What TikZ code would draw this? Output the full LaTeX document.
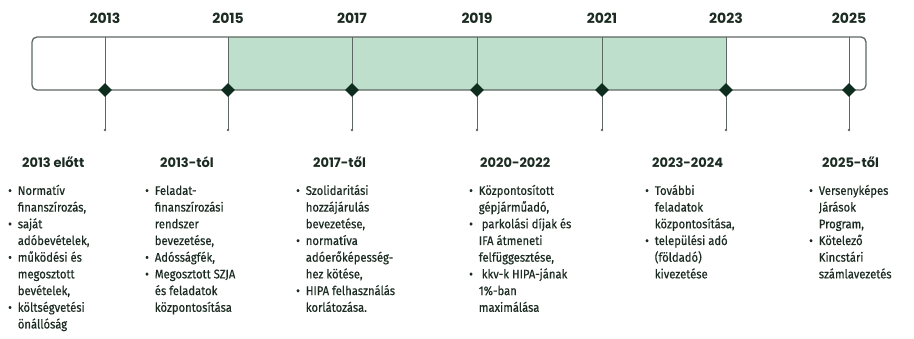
\documentclass[tikz,border=0pt]{standalone}
\usepackage{fontspec}
\setmainfont{Fira Sans}[FakeStretch=0.9,FakeBold=0.45]
\newfontfamily\headfont{Poppins}
\usetikzlibrary{shapes.geometric}
\definecolor{barfill}{HTML}{BEDFCB}
\definecolor{darkgreen}{HTML}{0F2D1E}
\definecolor{linegray}{HTML}{5E6862}
\definecolor{txt}{HTML}{1B2B22}
\begin{document}
\begin{tikzpicture}[x=1pt,y=-1pt,font=\fontsize{12.5}{16.7}\selectfont,
    year/.style={anchor=base,text=txt,font=\fontsize{14}{16}\selectfont\headfont\bfseries},
    dmark/.style={diamond,fill=darkgreen,minimum size=14pt,inner sep=0pt},
    head/.style={anchor=base west,text=txt,inner sep=0pt,font=\fontsize{13}{15}\selectfont\headfont\bfseries},
    col/.style={anchor=north west,text=txt,inner sep=0pt,align=left},
    tick/.style={linegray,line width=1pt}]
    \useasboundingbox (0,0) rectangle (914,339);

    % the bar
    \fill[barfill] (228,37) rectangle (726,90);
    \draw[linegray,line width=1.3pt,rounded corners=5pt] (32,37) rectangle (866,90);

    % years
    \node[year] (y2013) at (105,24) {2013};
    \node[year] (y2015) at (228,24) {2015};
    \node[year] (y2017) at (352,24) {2017};
    \node[year] (y2019) at (477,24) {2019};
    \node[year] (y2021) at (602,24) {2021};
    \node[year] (y2023) at (726,24) {2023};
    \node[year] (y2025) at (849,24) {2025};

    \coordinate (t2013) at (105,37);
    \coordinate (t2015) at (228,37);
    \coordinate (t2017) at (352,37);
    \coordinate (t2019) at (477,37);
    \coordinate (t2021) at (602,37);
    \coordinate (t2023) at (726,37);
    \coordinate (t2025) at (849,37);

    \coordinate (e2013) at (105,130);
    \coordinate (e2015) at (228,130);
    \coordinate (e2017) at (352,130);
    \coordinate (e2019) at (477,130);
    \coordinate (e2021) at (602,130);
    \coordinate (e2023) at (726,130);
    \coordinate (e2025) at (849,130);

    \draw[tick] (t2013) -- (e2013);
    \draw[tick] (t2015) -- (e2015);
    \draw[tick] (t2017) -- (e2017);
    \draw[tick] (t2019) -- (e2019);
    \draw[tick] (t2021) -- (e2021);
    \draw[tick] (t2023) -- (e2023);
    \draw[tick] (t2025) -- (e2025);

    \fill[linegray] (e2013) circle (1.3pt) (e2015) circle (1.3pt) (e2017) circle (1.3pt)
        (e2019) circle (1.3pt) (e2021) circle (1.3pt) (e2023) circle (1.3pt) (e2025) circle (1.3pt);

    \node[dmark] (d2013) at (105,90) {};
    \node[dmark] (d2015) at (228,90) {};
    \node[dmark] (d2017) at (352,90) {};
    \node[dmark] (d2019) at (477,90) {};
    \node[dmark] (d2021) at (602,90) {};
    \node[dmark] (d2023) at (726,90) {};
    \node[dmark] (d2025) at (849,90) {};

    % periods
    \node[head] (h2013) at (22,168) {2013 előtt};
    \node[head] (h2013b) at (160,168) {2013-tól};
    \node[head] (h2017) at (313,168) {2017-től};
    \node[head] (h2020) at (480,168) {2020-2022};
    \node[head] (h2023) at (652,168) {2023-2024};
    \node[head] (h2025) at (822,168) {2025-től};

    \node[col] (c2013) at (8,183) {\begin{tabular}{@{}l@{\hspace{6pt}}l@{}}
        \textbullet & Normatív\\
         & finanszírozás,\\
        \textbullet & saját\\
         & adóbevételek,\\
        \textbullet & működési és\\
         & megosztott\\
         & bevételek,\\
        \textbullet & költségvetési\\
         & önállóság
    \end{tabular}};
    \node[col] (c2013b) at (145,183) {\begin{tabular}{@{}l@{\hspace{6pt}}l@{}}
        \textbullet & Feladat-\\
         & finanszírozási\\
         & rendszer\\
         & bevezetése,\\
        \textbullet & Adósságfék,\\
        \textbullet & Megosztott SZJA\\
         & és feladatok\\
         & központosítása
    \end{tabular}};
    \node[col] (c2017) at (296,183) {\begin{tabular}{@{}l@{\hspace{6pt}}l@{}}
        \textbullet & Szolidaritási\\
         & hozzájárulás\\
         & bevezetése,\\
        \textbullet & normatíva\\
         & adóerőképesség-\\
         & hez kötése,\\
        \textbullet & HIPA felhasználás\\
         & korlátozása.
    \end{tabular}};
    \node[col] (c2020) at (469,183) {\begin{tabular}{@{}l@{\hspace{6pt}}l@{}}
        \textbullet & Központosított\\
         & gépjárműadó,\\
        \textbullet & \ parkolási díjak és\\
         & IFA átmeneti\\
         & felfüggesztése,\\
        \textbullet & \ kkv-k HIPA-jának\\
         & 1\%-ban\\
         & maximálása
    \end{tabular}};
    \node[col] (c2023) at (645,183) {\begin{tabular}{@{}l@{\hspace{6pt}}l@{}}
        \textbullet & További\\
         & feladatok\\
         & központosítása,\\
        \textbullet & települési adó\\
         & (földadó)\\
         & kivezetése
    \end{tabular}};
    \node[col] (c2025) at (809,183) {\begin{tabular}{@{}l@{\hspace{6pt}}l@{}}
        \textbullet & Versenyképes\\
         & Járások\\
         & Program,\\
        \textbullet & Kötelező\\
         & Kincstári\\
         & számlavezetés
    \end{tabular}};
\end{tikzpicture}
\end{document}
